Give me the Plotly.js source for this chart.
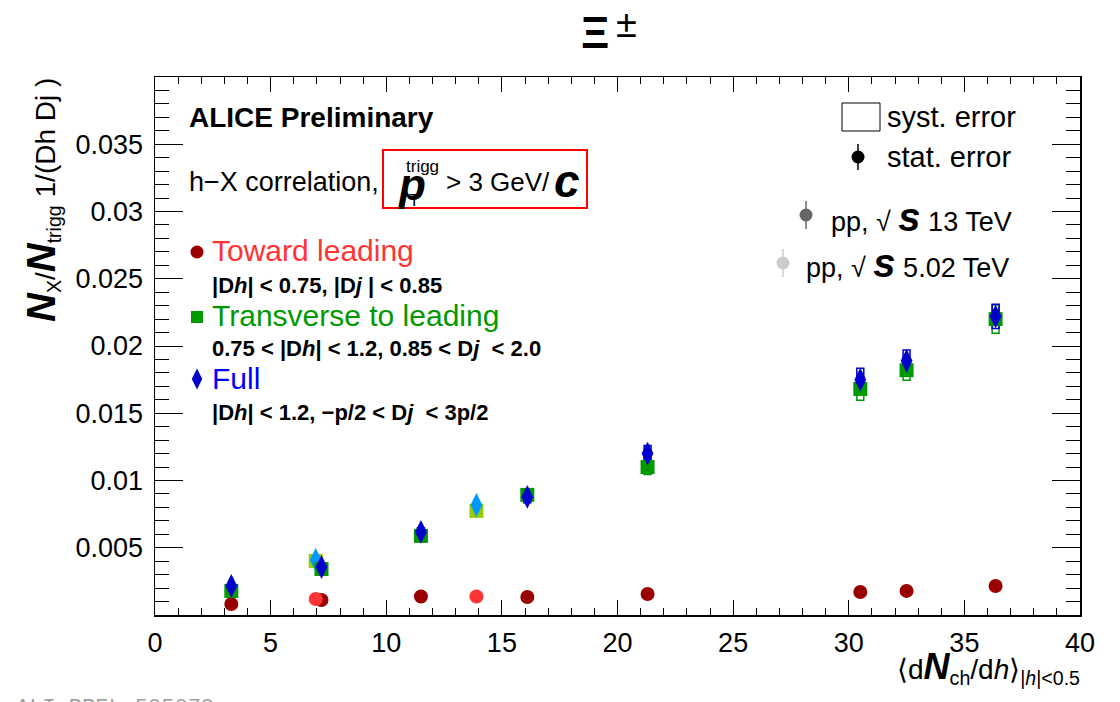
<!DOCTYPE html>
<html>
<head>
<meta charset="utf-8">
<script src="https://cdn.plot.ly/plotly-3.0.1.min.js"></script>
<style>
  html, body { margin: 0; padding: 0; background: #ffffff; }
  #chart { width: 1120px; height: 702px; }
</style>
</head>
<body>
<div id="chart"></div>
<script>
// Xi yields per trigger vs. charged-particle multiplicity, three azimuthal regions
const nchPP13 = [3.3, 7.2, 11.5, 16.1, 21.3, 30.5, 32.5, 36.35];
const nchPP502 = [6.95, 13.9];

const towardPP13 = [0.00082, 0.00112, 0.00137, 0.00134, 0.00156, 0.00171, 0.00179, 0.00216];
const towardPP502 = [0.00119, 0.00137];
const towardStat13 = [0.00005, 0.00005, 0.00005, 0.00005, 0.00006, 0.00007, 0.00007, 0.00008];
const towardSyst13 = [0.00004, 0.00006, 0.00007, 0.00007, 0.00008, 0.00009, 0.00009, 0.00011];

const transPP13 = [0.00179, 0.00342, 0.00588, 0.00893, 0.0110, 0.0168, 0.0182, 0.0220];
const transPP502 = [0.00402, 0.00774];
const transStat13 = [0.00008, 0.00012, 0.00015, 0.0002, 0.00025, 0.00035, 0.00035, 0.0004];
const transSyst13 = [0.00009, 0.00017, 0.0003, 0.00045, 0.00055, 0.00084, 0.00075, 0.00105];

const fullPP13 = [0.00216, 0.00357, 0.00618, 0.00878, 0.0120, 0.0175, 0.0189, 0.0222];
const fullPP502 = [0.00409, 0.00818];
const fullStat13 = [0.00008, 0.00012, 0.00015, 0.0002, 0.00025, 0.00035, 0.00035, 0.0004];
const fullSyst13 = [0.0001, 0.00018, 0.0003, 0.00044, 0.0006, 0.00085, 0.0008, 0.0009];

const xTickVals = [0, 5, 10, 15, 20, 25, 30, 35, 40];
const yTickVals = [0.005, 0.01, 0.015, 0.02, 0.025, 0.03, 0.035];
const yTickText = ['0.005', '0.01', '0.015', '0.02', '0.025', '0.03', '0.035'];

const FONT = 'Liberation Sans, Arial, Helvetica, sans-serif';

// frame geometry helpers (pixel -> paper fraction)
const L = 155, R = 1080, T = 77, B = 615;
const PX = x => (x - L) / (R - L);
const PY = y => (B - y) / (B - T);

function pts(name, x, y, color, symbol, size, stat) {
  const tr = {
    type: 'scatter', mode: 'markers', name: name, x: x, y: y,
    marker: { color: color, symbol: symbol, size: size, line: { width: 0 } },
    cliponaxis: false, showlegend: false, hoverinfo: 'x+y'
  };
  if (stat) {
    tr.error_y = { type: 'data', array: stat, visible: true, thickness: 1.5, width: 0, color: color };
  }
  return tr;
}

const traces = [
  pts('Toward, 13 TeV', nchPP13, towardPP13, '#990000', 'circle', 14, towardStat13),
  pts('Toward, 5.02 TeV', nchPP502, towardPP502, '#ff3333', 'circle', 14),
  pts('Transverse, 5.02 TeV', nchPP502, transPP502, '#99cc00', 'square', 14),
  pts('Full, 5.02 TeV', nchPP502, fullPP502, '#0099ff', 'diamond-tall', 17),
  pts('Transverse, 13 TeV', nchPP13, transPP13, '#009900', 'square', 14, transStat13),
  pts('Full, 13 TeV', nchPP13, fullPP13, '#0000cc', 'diamond-tall', 17, fullStat13)
];

// legend markers, placed on an overlay axis pair spanning the frame as 0..1
const keyX = [PX(197), PX(197), PX(197), PX(858), PX(806), PX(783)];
const keyY = [PY(252), PY(317), PY(379), PY(157), PY(215), PY(263)];
const keyColor = ['#990000', '#009900', '#0000cc', '#000000', '#666666', '#cccccc'];
const keySymbol = ['circle', 'square', 'diamond-tall', 'circle', 'circle', 'circle'];
const keySize = [13, 12, 15, 13, 13, 13];
const keyErr = [0, 0, 0, 13 / (B - T), 14 / (B - T), 14 / (B - T)];
keyX.forEach((kx, i) => {
  traces.push({
    type: 'scatter', mode: 'markers', x: [kx], y: [keyY[i]], xaxis: 'x2', yaxis: 'y2',
    marker: { color: keyColor[i], symbol: keySymbol[i], size: keySize[i] },
    error_y: { type: 'data', array: [keyErr[i]], visible: keyErr[i] > 0, thickness: 1.5, width: 0, color: keyColor[i] },
    cliponaxis: false, showlegend: false, hoverinfo: 'skip'
  });
});

// systematic uncertainty boxes (open rectangles)
const shapes = [];
function systBoxes(x, y, s, color) {
  x.forEach((xv, i) => {
    shapes.push({
      type: 'rect', xref: 'x', yref: 'y', layer: 'below',
      x0: xv - 0.15, x1: xv + 0.15, y0: y[i] - s[i], y1: y[i] + s[i],
      line: { color: color, width: 1.5 }, fillcolor: 'rgba(0,0,0,0)'
    });
  });
}
systBoxes(nchPP13, towardPP13, towardSyst13, '#990000');
systBoxes(nchPP13, transPP13, transSyst13, '#009900');
systBoxes(nchPP13, fullPP13, fullSyst13, '#0000cc');

// trigger-selection box and syst. legend box
shapes.push({ type: 'rect', xref: 'paper', yref: 'paper', x0: PX(383), x1: PX(587), y0: PY(208), y1: PY(150),
  line: { color: '#ff0000', width: 2 } });
shapes.push({ type: 'rect', xref: 'paper', yref: 'paper', x0: PX(842), x1: PX(880), y0: PY(131), y1: PY(103),
  line: { color: '#000000', width: 1 } });

function note(text, x, y, size, opts) {
  return Object.assign({
    xref: 'paper', yref: 'paper', x: PX(x), y: PY(y), text: text, showarrow: false,
    xanchor: 'left', yanchor: 'middle', font: { family: FONT, size: size, color: '#000000' }
  }, opts || {});
}
const big = (t, px) => '<span style="font-size:' + px + 'px"><b><i>' + t + '</i></b></span>';

const annotations = [
  note('<b>ALICE Preliminary</b>', 187, 118, 28),
  note('h\u2212X correlation,', 187, 182, 27),
  note('<b><i>p</i></b>', 396, 184, 44),
  note('trigg', 404, 166, 17),
  note('T', 407, 200, 17),
  note('> 3 GeV/', 444, 182, 26),
  note('<b><i>c</i></b>', 552, 181, 46),

  note('Toward leading', 210, 250, 30, { font: { family: FONT, size: 30, color: '#ff3333' } }),
  note('<b>|D<i>h</i>| &lt; 0.75, |D<i>j</i> | &lt; 0.85</b>', 210, 285, 22),
  note('Transverse to leading', 210, 315, 30, { font: { family: FONT, size: 30, color: '#009900' } }),
  note('<b>0.75 &lt; |D<i>h</i>| &lt; 1.2, 0.85 &lt; D<i>j</i>  &lt; 2.0</b>', 210, 348, 22),
  note('Full', 210, 378, 30, { font: { family: FONT, size: 30, color: '#0000ff' } }),
  note('<b>|D<i>h</i>| &lt; 1.2, \u2212p/2 &lt; D<i>j</i>  &lt; 3p/2</b>', 210, 412, 22),

  note('syst. error', 885, 117, 29),
  note('stat. error', 885, 157, 29),
  note('pp, \u221A ' + big('s', 40) + ' 13 TeV', 829, 217, 27),
  note('pp, \u221A ' + big('s', 40) + ' 5.02 TeV', 804, 263, 27),

  // axis titles, ROOT-style at the far ends of the axes
  note('\u27E8d' + big('N', 36) + '<sub>ch</sub>/d<i>h</i>\u27E9<sub>|<i>h</i>|&lt;0.5</sub>', 1082, 667, 28,
    { xanchor: 'right' }),
  note(big('N', 40) + '<sub>X</sub>/' + big('N', 40) + '<sub>trigg</sub> 1/(Dh Dj )', 42, 76, 28,
    { xanchor: 'center', yanchor: 'top', textangle: -90 }),

  // plot title
  note('<b>\u039E</b>', 595, 32, 44, { xanchor: 'center' }),
  note('\u00B1', 626, 24, 38, { xanchor: 'center' }),

  note('ALI-PREL-505078', 14, 694, 22,
    { yanchor: 'top', font: { family: 'Liberation Mono, Courier New, monospace', size: 22, color: '#a0a0a0' } })
];

const axisCommon = {
  showline: true, linecolor: '#000000', linewidth: 1.5, mirror: 'allticks',
  ticks: 'inside', tickcolor: '#000000', tickwidth: 1,
  showgrid: false, zeroline: false,
  tickfont: { family: FONT, size: 27, color: '#000000' }
};

const layout = {
  width: 1120, height: 702,
  margin: { l: L, r: 1120 - R, t: T, b: 702 - B, pad: 0 },
  paper_bgcolor: '#ffffff', plot_bgcolor: '#ffffff',
  font: { family: FONT, color: '#000000' },
  showlegend: false,
  xaxis: Object.assign({}, axisCommon, {
    range: [0, 40], tickmode: 'array', tickvals: xTickVals, ticklen: 15,
    ticklabelstandoff: 3,
    minor: { ticks: 'inside', ticklen: 7, tickmode: 'linear', tick0: 0, dtick: 1, tickcolor: '#000000', showgrid: false }
  }),
  yaxis: Object.assign({}, axisCommon, {
    range: [0, 0.04], tickmode: 'array', tickvals: yTickVals, ticktext: yTickText, ticklen: 28,
    ticklabelstandoff: 5,
    minor: { ticks: 'inside', ticklen: 14, tickmode: 'linear', tick0: 0, dtick: 0.001, tickcolor: '#000000', showgrid: false }
  }),
  xaxis2: { overlaying: 'x', range: [0, 1], visible: false, fixedrange: true },
  yaxis2: { overlaying: 'y', range: [0, 1], visible: false, fixedrange: true },
  shapes: shapes,
  annotations: annotations
};

Plotly.newPlot('chart', traces, layout, { staticPlot: true, displayModeBar: false });
</script>
</body>
</html>
